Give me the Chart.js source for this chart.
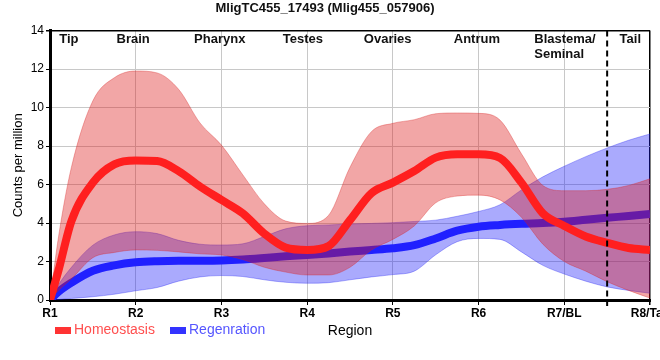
<!DOCTYPE html>
<html>
<head>
<meta charset="utf-8">
<title>MligTC455_17493</title>
<script src="https://cdn.jsdelivr.net/npm/chart.js@4.4.0/dist/chart.umd.min.js"></script>
<style>
    html, body { margin: 0; padding: 0; background: #fff; }
</style>
</head>
<body>
<canvas id="regionChart" width="660" height="360"></canvas>
<script>
// x axis categories and tissue names written across the top
const regions = ['R1', 'R2', 'R3', 'R4', 'R5', 'R6', 'R7/BL', 'R8/Tail'];
const tissues = ['Tip', 'Brain', 'Pharynx', 'Testes', 'Ovaries', 'Antrum', ['Blastema/', 'Seminal'], 'Tail'];
const tissueAt = [1.22, 1.97, 2.98, 3.95, 4.94, 5.98, 6.65, 7.77];
const yTicks = [0, 2, 4, 6, 8, 10, 12, 14];

// positions along the body (1 = R1 ... 8 = R8) where the curves were read
const pos = [1, 1.1, 1.25, 1.5, 1.75, 2, 2.25, 2.5, 2.75, 3, 3.25, 3.5, 3.75, 4, 4.25,
             4.5, 4.75, 5, 5.25, 5.5, 5.75, 6, 6.25, 6.5, 6.75, 7, 7.25, 7.5, 7.75, 8];

// Homeostasis
const homeoMean  = [0, 1.55, 4.1, 6.1, 7.05, 7.25, 7.22, 6.7, 5.9, 5.2, 4.5, 3.45, 2.72, 2.6, 2.8,
                    4.15, 5.55, 6.1, 6.7, 7.4, 7.57, 7.57, 7.38, 6.1, 4.5, 3.85, 3.3, 2.97, 2.7, 2.6];
const homeoUpper = [0, 3.3, 6.9, 10.35, 11.55, 11.9, 11.8, 10.95, 9.2, 8.05, 6.5, 5.0, 4.1, 3.98, 4.4,
                    6.9, 8.75, 9.18, 9.37, 9.68, 9.72, 9.7, 9.35, 7.6, 5.95, 5.68, 5.68, 5.75, 5.95, 6.3];
const homeoLower = [0, 0.5, 1.1, 2.2, 2.47, 2.6, 2.58, 2.5, 2.4, 2.34, 2.1, 1.7, 1.45, 1.3, 1.3,
                    1.7, 2.6, 3.15, 3.85, 5.05, 5.4, 5.45, 5.2, 4.3, 2.9, 2.0, 1.5, 0.95, 0.5, 0.1];

// Regeneration
const regenMean  = [0, 0.43, 0.9, 1.52, 1.8, 1.96, 2.02, 2.04, 2.04, 2.05, 2.1, 2.18, 2.27, 2.34, 2.42,
                    2.52, 2.6, 2.69, 2.85, 3.2, 3.6, 3.81, 3.9, 3.96, 4.0, 4.07, 4.17, 4.27, 4.37, 4.47];
const regenUpper = [0, 0.8, 1.7, 2.85, 3.38, 3.55, 3.45, 3.1, 2.9, 2.86, 2.92, 3.3, 3.7, 3.86, 3.9,
                    3.95, 3.98, 4.02, 4.08, 4.15, 4.35, 4.6, 4.95, 5.72, 6.4, 6.95, 7.45, 7.9, 8.3, 8.63];
const regenLower = [0, 0.03, 0.08, 0.17, 0.3, 0.48, 0.65, 0.98, 1.2, 1.27, 1.22, 1.05, 0.92, 0.87, 0.9,
                    1.05, 1.2, 1.32, 1.5, 2.35, 3.03, 3.2, 3.15, 2.5, 1.8, 1.35, 0.98, 0.68, 0.5, 0.35];

const fontFamily = "'Liberation Sans', Arial, sans-serif";
Chart.defaults.font.family = fontFamily;
Chart.defaults.color = '#000';

function toPoints(values) {
    return pos.map((x, i) => ({ x: x, y: values[i] }));
}

// dashed tail marker, tissue names and the legend row
const overlayPlugin = {
    id: 'overlay',
    afterDatasetsDraw(chart) {
        const ctx = chart.ctx;
        const area = chart.chartArea;
        const xs = chart.scales.x;

        ctx.save();
        const dashX = xs.getPixelForValue(7.5);
        ctx.strokeStyle = '#000';
        ctx.lineWidth = 2;
        ctx.setLineDash([6, 4]);
        ctx.beginPath();
        ctx.moveTo(dashX, area.top);
        ctx.lineTo(dashX, area.bottom + 6);
        ctx.stroke();
        ctx.setLineDash([]);

        ctx.font = 'bold 13px ' + fontFamily;
        ctx.fillStyle = '#111';
        ctx.textBaseline = 'middle';
        tissues.forEach((name, i) => {
            const px = xs.getPixelForValue(tissueAt[i]);
            if (Array.isArray(name)) {
                ctx.textAlign = 'left';
                name.forEach((line, j) => ctx.fillText(line, px, area.top + 9 + j * 15));
            } else {
                ctx.textAlign = 'center';
                ctx.fillText(name, px, area.top + 9);
            }
        });
        ctx.restore();
    },
    afterDraw(chart) {
        const ctx = chart.ctx;
        ctx.save();
        ctx.font = '14px ' + fontFamily;
        ctx.textBaseline = 'middle';
        ctx.textAlign = 'left';
        ctx.fillStyle = '#ff3333';
        ctx.fillRect(55, 327, 16, 7);
        ctx.fillStyle = '#ff4f4f';
        ctx.fillText('Homeostasis', 74, 330.5);
        ctx.fillStyle = '#3333ff';
        ctx.fillRect(170, 327, 16, 7);
        ctx.fillStyle = '#5656ff';
        ctx.fillText('Regenration', 189, 330.5);
        ctx.restore();
    }
};

const chartCtx = document.getElementById('regionChart').getContext('2d');
const regionChart = new Chart(chartCtx, {
    type: 'line',
    data: {
        datasets: [
            {
                label: 'Homeostasis',
                data: toPoints(homeoMean),
                borderColor: '#ff1f1f',
                borderWidth: 8,
                fill: false
            },
            {
                label: 'Homeostasis upper',
                data: toPoints(homeoUpper),
                borderColor: 'rgba(215, 40, 40, 0.35)',
                borderWidth: 1,
                backgroundColor: 'rgba(220, 20, 20, 0.38)',
                fill: '+1'
            },
            {
                label: 'Homeostasis lower',
                data: toPoints(homeoLower),
                borderColor: 'rgba(215, 40, 40, 0.35)',
                borderWidth: 1,
                fill: false
            },
            {
                label: 'Regenration',
                data: toPoints(regenMean),
                borderColor: '#2020ff',
                borderWidth: 8,
                fill: false
            },
            {
                label: 'Regenration upper',
                data: toPoints(regenUpper),
                borderColor: 'rgba(40, 40, 240, 0.35)',
                borderWidth: 1,
                backgroundColor: 'rgba(25, 25, 250, 0.37)',
                fill: '+1'
            },
            {
                label: 'Regenration lower',
                data: toPoints(regenLower),
                borderColor: 'rgba(40, 40, 240, 0.35)',
                borderWidth: 1,
                fill: false
            }
        ]
    },
    options: {
        responsive: false,
        animation: false,
        elements: {
            point: { radius: 0 },
            line: { cubicInterpolationMode: 'monotone' }
        },
        layout: { padding: { left: 0, right: 10, top: 0, bottom: 0 } },
        plugins: {
            legend: { display: false },
            tooltip: { enabled: false },
            title: {
                display: true,
                text: 'MligTC455_17493 (Mlig455_057906)',
                color: '#111',
                font: { size: 13, weight: 'bold' },
                padding: { top: 1, bottom: 14 }
            }
        },
        scales: {
            x: {
                type: 'linear',
                min: 1,
                max: 8,
                afterFit: function(scale) {
                    scale.height = 60;
                    scale.paddingLeft = 0;
                    scale.paddingRight = 0;
                },
                ticks: {
                    stepSize: 1,
                    autoSkip: false,
                    maxRotation: 0,
                    padding: 1,
                    color: '#000',
                    font: { size: 12, weight: 'bold' },
                    callback: function(value) {
                        return regions[Math.round(value) - 1];
                    }
                },
                grid: {
                    color: (c) => (c.tick && c.tick.value === 8 ? '#000' : '#c8c8c8'),
                    lineWidth: (c) => (c.tick && c.tick.value === 8 ? 1.5 : 1),
                    tickColor: '#000',
                    tickLength: 5
                },
                border: { color: '#000', width: 3 },
                title: {
                    display: true,
                    text: 'Region',
                    color: '#000',
                    font: { size: 14 },
                    padding: { top: 0, bottom: 20 }
                }
            },
            y: {
                min: 0,
                max: 14,
                afterFit: function(scale) {
                    scale.width = 50;
                },
                afterBuildTicks: function(scale) {
                    scale.ticks = yTicks.map(v => ({ value: v }));
                },
                ticks: {
                    padding: 2,
                    color: '#000',
                    font: { size: 12 }
                },
                grid: {
                    color: (c) => (c.tick && c.tick.value === 14 ? '#000' : '#c8c8c8'),
                    lineWidth: (c) => (c.tick && c.tick.value === 14 ? 1.5 : 1),
                    tickColor: '#000',
                    tickLength: 4
                },
                border: { color: '#000', width: 3 },
                title: {
                    display: true,
                    text: 'Counts per million',
                    color: '#000',
                    font: { size: 13 },
                    padding: { top: 11, bottom: 0 }
                }
            }
        }
    },
    plugins: [overlayPlugin]
});
</script>
</body>
</html>
